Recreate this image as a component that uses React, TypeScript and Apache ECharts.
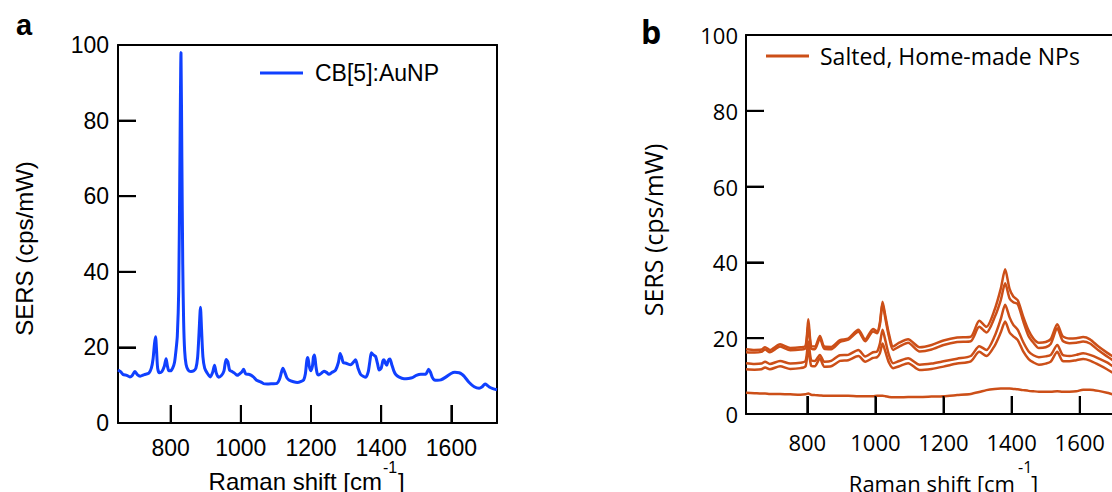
import { useEffect, useRef } from "react";
import * as echarts from "echarts";

const nameA = "CB[5]:AuNP";
const nameB = "Salted, Home-made NPs";
const xTicks = [800, 1000, 1200, 1400, 1600];
const yTicks = [0, 20, 40, 60, 80, 100];
const minA = 650;
const minB = 620;
const maxX = 1730;

const shiftA = [650, 658, 665, 675, 684, 690, 698, 705, 713, 725, 738, 745, 750, 754, 757, 760, 763, 768, 775, 782, 787, 791, 795, 800, 806, 811, 815, 819, 823, 826, 829.5, 832, 834.5, 837, 840, 844, 850, 858, 866, 872, 877, 881, 885, 888, 892, 897, 903, 913, 920, 925, 930, 937, 945, 952, 958, 963, 968, 975, 982, 990, 995, 1002, 1008, 1014, 1022, 1030, 1037, 1045, 1056, 1065, 1075, 1090, 1103, 1110, 1116, 1120, 1125, 1131, 1137, 1150, 1161, 1172, 1179, 1184, 1188, 1191, 1195, 1199, 1204, 1207, 1210, 1214, 1218, 1222, 1230, 1237, 1244, 1251, 1260, 1270, 1278, 1283, 1287, 1292, 1300, 1313, 1320, 1327, 1334, 1341, 1350, 1356, 1363, 1368, 1372, 1378, 1384, 1390, 1394, 1400, 1405, 1408, 1412, 1416, 1420, 1425, 1430, 1436, 1441, 1450, 1465, 1478, 1489, 1500, 1513, 1527, 1531, 1535, 1540, 1546, 1551, 1560, 1570, 1585, 1599, 1610, 1622, 1630, 1637, 1650, 1665, 1679, 1688, 1696, 1702, 1708, 1718, 1730];
const sersA = [14.0, 13.5, 12.8, 12.6, 12.2, 12.5, 13.6, 12.8, 12.4, 12.8, 13.2, 14.5, 17, 21, 22.8, 19, 14.5, 13.3, 13.6, 15, 17, 15, 13.8, 13.8, 14.6, 16, 19, 23, 35, 65, 98, 70, 42, 27, 19, 15.5, 14, 13.6, 13.8, 14.5, 17.5, 24, 30.6, 25, 17.5, 14.5, 13.4, 12.2, 13.5, 15.3, 13.2, 12.1, 12.6, 13.8, 16.8, 16.2, 14, 13.6, 13.2, 12.6, 12.9, 13.4, 14.2, 13, 12.9, 12.6, 12.1, 11.3, 10.9, 10.4, 10.3, 10.4, 10.5, 11.5, 13.5, 14.5, 13.5, 12, 11.4, 10.9, 10.7, 11, 11.4, 13, 16.5, 17.3, 15, 13.8, 15, 17.5, 18, 15, 13, 12.7, 13.2, 13.7, 13.4, 12.9, 13.4, 14, 16, 18.4, 17.5, 16, 15.8, 15.4, 16, 16.7, 14.5, 12.9, 12.3, 12.1, 13.5, 16.5, 18.6, 18, 17.6, 15.5, 14, 14.5, 16.5, 16.7, 15.8, 15.3, 16.5, 16.9, 15.5, 13.8, 12.9, 12.2, 11.7, 11.8, 12, 12.6, 12.9, 12.9, 13.5, 14.2, 13.5, 12, 11.4, 11.3, 11.4, 12.2, 13.1, 13.4, 13.3, 12.9, 12.3, 10.8, 9.6, 9.2, 9.6, 10.3, 10, 9.5, 9.1, 8.8];

const shiftB = [620, 645, 665, 676, 690, 720, 750, 780, 795, 803, 811, 822, 837, 850, 870, 896, 920, 950, 970, 993, 1005, 1013, 1021, 1029, 1040, 1052, 1070, 1096, 1130, 1165, 1200, 1240, 1280, 1305, 1326, 1350, 1368, 1381, 1394, 1405, 1418, 1434, 1450, 1464, 1480, 1500, 1515, 1534, 1550, 1570, 1590, 1610, 1630, 1655, 1680, 1705, 1730];
const salted1 = [17.1, 16.9, 17.0, 17.6, 16.9, 18.4, 17.4, 17.6, 18.0, 25.0, 18.0, 17.8, 20.6, 17.8, 17.7, 19.5, 19.9, 22.2, 19.7, 22.4, 21.8, 24, 29.6, 26, 21, 17.8, 18.8, 19.7, 17.6, 18.2, 19.4, 20.2, 20.4, 24.6, 23.0, 27.5, 33, 38.2, 33, 31, 30, 25.7, 22, 19.9, 18.8, 19.0, 19.8, 23.7, 20.5, 19.9, 20.0, 20.3, 19.7, 17.8, 16.2, 14.8, 13.8];
const salted2 = [16.3, 16.2, 16.4, 17.0, 16.3, 17.8, 16.8, 17.0, 17.4, 23.5, 17.4, 17.1, 20.0, 17.2, 17.1, 19.0, 19.6, 21.7, 19.2, 21.8, 21.3, 23.5, 29.0, 25.3, 20.3, 16.9, 17.8, 18.8, 16.5, 17.0, 18.2, 19.0, 19.2, 23.0, 21.5, 25.5, 30, 34.5, 30.5, 29.5, 29, 24.5, 20.5, 18.8, 17.4, 17.6, 18.5, 22.6, 19.3, 18.7, 18.8, 19.1, 18.6, 16.8, 15.2, 13.8, 13.0];
const salted3 = [13.4, 13.2, 13.3, 13.8, 13.2, 14.0, 13.3, 13.5, 14.0, 19.1, 14.3, 14.0, 15.6, 13.8, 14.0, 15.5, 15.6, 16.9, 15.2, 16.3, 16.5, 18.5, 22.2, 19.5, 15.5, 13.4, 14.0, 14.7, 13.0, 13.3, 13.9, 14.6, 15.3, 17.9, 16.9, 20.5, 25, 28.8, 25.5, 23.5, 22.2, 19, 16.5, 15.5, 15.0, 15.2, 15.6, 18.2, 15.6, 15.3, 15.6, 16.0, 15.6, 14.7, 13.6, 12.2, 11.5];
const salted4 = [11.8, 11.7, 11.8, 12.3, 11.8, 12.6, 11.9, 12.1, 12.6, 17.5, 12.8, 12.6, 14.7, 12.5, 12.6, 14.0, 14.2, 15.3, 13.8, 14.8, 15.0, 16.0, 18.6, 16.5, 13.5, 12.1, 12.6, 13.4, 11.6, 11.9, 12.5, 13.3, 13.9, 16.4, 15.3, 18, 21.5, 24.4, 21.5, 20.5, 19.5, 16.5, 14.5, 13.6, 13.0, 13.3, 13.8, 16.4, 14.0, 13.9, 14.2, 14.5, 14.1, 13.0, 11.8, 10.5, 9.8];
const salted5 = [5.6, 5.5, 5.4, 5.4, 5.3, 5.3, 5.2, 5.1, 5.2, 5.4, 5.1, 5.0, 4.9, 4.8, 4.8, 4.8, 4.8, 4.7, 4.7, 4.7, 4.8, 4.8, 4.8, 4.7, 4.5, 4.4, 4.4, 4.5, 4.5, 4.6, 4.7, 5.0, 5.3, 5.8, 6.3, 6.6, 6.7, 6.7, 6.7, 6.6, 6.5, 6.3, 6.1, 6.0, 5.9, 5.9, 5.9, 6.0, 5.9, 5.9, 6.0, 6.4, 6.4, 6.1, 5.6, 5.0, 4.6];

const BLUE = "#1040ff";
const ORANGE = "#cc4f18";
const FA = "Liberation Sans";
const FB = "Open Sans";
const TICK_LEN = 18;

function axisX(grid: number, min: number, font: string, size: number, margin: number) {
  return {
    gridIndex: grid,
    type: "value",
    min,
    max: maxX,
    axisLine: { show: true, lineStyle: { color: "#000", width: 2 } },
    axisTick: { show: true, inside: true, length: TICK_LEN, customValues: xTicks, lineStyle: { color: "#000", width: 2 } },
    axisLabel: { show: true, customValues: xTicks, fontFamily: font, fontSize: size, color: "#000", margin, formatter: (v: number) => String(v) },
    splitLine: { show: false },
  };
}
function frameX(grid: number, min: number) {
  return {
    gridIndex: grid, type: "value", position: "top", min, max: maxX,
    axisLine: { show: true, onZero: false, lineStyle: { color: "#000", width: 2 } },
    axisTick: { show: false }, axisLabel: { show: false }, splitLine: { show: false },
  };
}
function axisY(grid: number, font: string, size: number, margin: number) {
  return {
    gridIndex: grid,
    type: "value",
    min: 0,
    max: 100,
    interval: 20,
    axisLine: { show: true, lineStyle: { color: "#000", width: 2 } },
    axisTick: { show: true, inside: true, length: TICK_LEN, lineStyle: { color: "#000", width: 2 } },
    axisLabel: { show: true, fontFamily: font, fontSize: size, color: "#000", margin },
    splitLine: { show: false },
  };
}
function frameY(grid: number) {
  return {
    gridIndex: grid, type: "value", position: "right", min: 0, max: 100,
    axisLine: { show: true, onZero: false, lineStyle: { color: "#000", width: 2 } },
    axisTick: { show: false }, axisLabel: { show: false }, splitLine: { show: false },
  };
}
function tickSeries(axis: number, xmin: number) {
  const data = [
    ...xTicks.map((v) => [v, 0, 0]),
    ...yTicks.map((v) => [xmin, v, 1]),
  ];
  return {
    type: "custom",
    xAxisIndex: axis,
    yAxisIndex: axis,
    silent: true,
    z: 6,
    clip: false,
    data,
    encode: { x: 0, y: 1 },
    renderItem: (_p: any, api: any) => {
      const pt = api.coord([api.value(0), api.value(1)]);
      const vertical = api.value(2) === 0;
      return {
        type: "line",
        shape: vertical
          ? { x1: pt[0], y1: pt[1], x2: pt[0], y2: pt[1] - TICK_LEN }
          : { x1: pt[0], y1: pt[1], x2: pt[0] + TICK_LEN, y2: pt[1] },
        style: { stroke: "#000", lineWidth: 2 },
      };
    },
  };
}

export default function App() {
  const ref = useRef<HTMLDivElement>(null);
  useEffect(() => {
    document.body.style.margin = "0";
    const chart = echarts.init(ref.current!, null, { renderer: "svg" });
    const salted = [salted1, salted2, salted3, salted4, salted5];
    chart.setOption({
      animation: false,
      backgroundColor: "#fff",
      grid: [
        { left: 118, top: 45, width: 379, height: 378, outerBoundsMode: "none", containLabel: false },
        { left: 746, top: 35, width: 378, height: 379, outerBoundsMode: "none", containLabel: false },
      ],
      xAxis: [axisX(0, minA, FA, 23, 13), axisX(1, minB, FB, 22, 17), frameX(0, minA), frameX(1, minB)],
      yAxis: [axisY(0, FA, 23, 9), axisY(1, FB, 22, 8), frameY(0), frameY(1)],
      legend: [
        {
          data: [nameA], left: 260, top: 61, padding: 0, icon: "rect", itemWidth: 43, itemHeight: 3,
          textStyle: { fontFamily: FA, fontSize: 23, color: "#000", lineHeight: 24, padding: [0, 0, 0, 7] },
        },
        {
          data: [nameB], left: 766, top: 44, padding: 0, icon: "rect", itemWidth: 43, itemHeight: 3,
          textStyle: { fontFamily: FB, fontSize: 23, color: "#000", lineHeight: 24, padding: [0, 0, 0, 6] },
        },
      ],
      graphic: [
        { type: "text", x: 16, y: 25, style: { text: "a", font: "bold 29px 'Liberation Sans'", fill: "#000", verticalAlign: "middle" } },
        { type: "text", x: 641, y: 31, style: { text: "b", font: "bold 32px 'Open Sans'", fill: "#000", verticalAlign: "middle" } },
        { type: "text", x: 382, y: 481.5, style: { text: "Raman shift [cm", font: "24px 'Liberation Sans'", fill: "#000", align: "right", verticalAlign: "middle" } },
        { type: "text", x: 383, y: 467, style: { text: "-1", font: "16px 'Liberation Sans'", fill: "#000", align: "left", verticalAlign: "middle" } },
        { type: "text", x: 398, y: 481.5, style: { text: "]", font: "24px 'Liberation Sans'", fill: "#000", align: "left", verticalAlign: "middle" } },
        { type: "text", x: 1015, y: 483, style: { text: "Raman shift [cm", font: "22px 'Open Sans'", fill: "#000", align: "right", verticalAlign: "middle" } },
        { type: "text", x: 1018, y: 467, style: { text: "-1", font: "16px 'Open Sans'", fill: "#000", align: "left", verticalAlign: "middle" } },
        { type: "text", x: 1031, y: 483, style: { text: "]", font: "22px 'Open Sans'", fill: "#000", align: "left", verticalAlign: "middle" } },
        { type: "text", x: 24.5, y: 248.5, rotation: Math.PI / 2, style: { text: "SERS (cps/mW)", font: "24px 'Liberation Sans'", fill: "#000", align: "center", verticalAlign: "middle" } },
        { type: "text", x: 652.5, y: 230, rotation: Math.PI / 2, style: { text: "SERS (cps/mW)", font: "25px 'Open Sans'", fill: "#000", align: "center", verticalAlign: "middle" } },
      ],
      series: [
        {
          type: "line", name: nameA, xAxisIndex: 0, yAxisIndex: 0, symbol: "none", smooth: 0.25,
          data: shiftA.map((x, i) => [x, sersA[i]]),
          lineStyle: { color: BLUE, width: 3 }, itemStyle: { color: BLUE },
        },
        ...salted.map((vals) => ({
          type: "line", name: nameB, xAxisIndex: 1, yAxisIndex: 1, symbol: "none", smooth: 0.25,
          data: shiftB.map((x, i) => [x, vals[i]]),
          lineStyle: { color: ORANGE, width: 2.5 }, itemStyle: { color: ORANGE },
        })),
        tickSeries(0, minA),
        tickSeries(1, minB),
      ],
    });
    return () => chart.dispose();
  }, []);
  return <div ref={ref} style={{ width: 1112, height: 492, overflow: "hidden" }} />;
}
